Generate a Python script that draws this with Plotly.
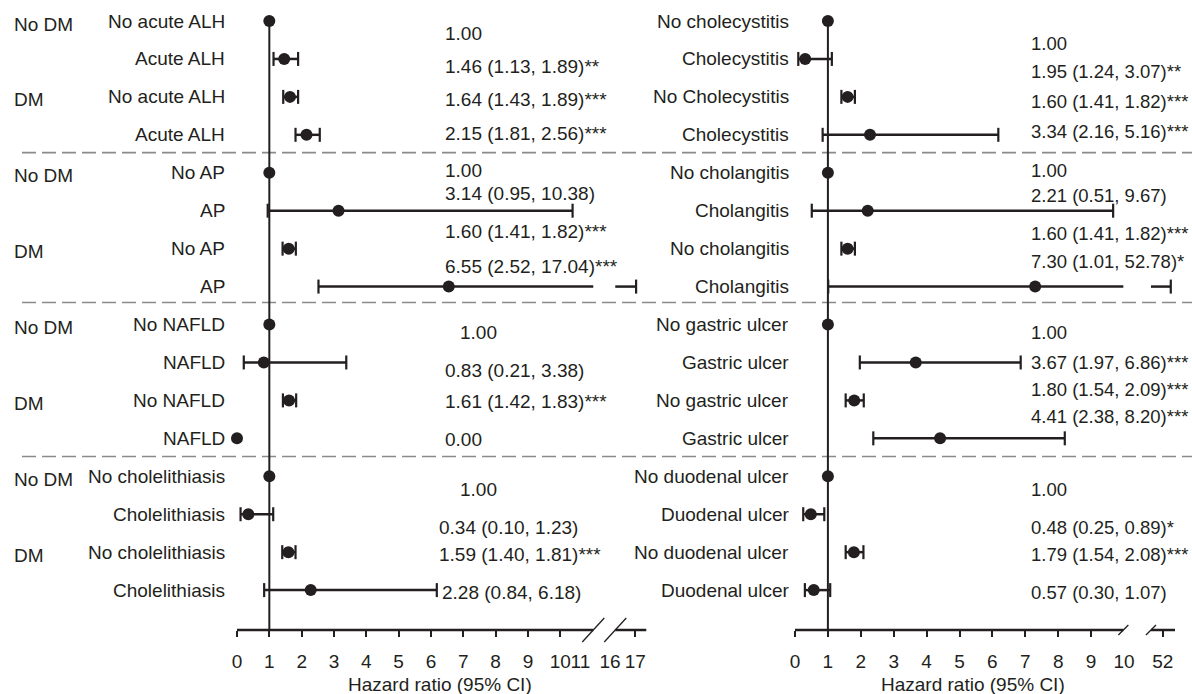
import plotly.graph_objects as go

# ---------------- data ----------------
group_labels = ["No DM", "", "DM", ""] * 4

left_categories = ["No acute ALH", "Acute ALH", "No acute ALH", "Acute ALH",
                   "No AP", "AP", "No AP", "AP",
                   "No NAFLD", "NAFLD", "No NAFLD", "NAFLD",
                   "No cholelithiasis", "Cholelithiasis", "No cholelithiasis", "Cholelithiasis"]
left_hr = [1.00, 1.46, 1.64, 2.15, 1.00, 3.14, 1.60, 6.55,
           1.00, 0.83, 1.61, 0.00, 1.00, 0.35, 1.59, 2.28]
left_lo = [None, 1.13, 1.43, 1.81, None, 0.95, 1.41, 2.52,
           None, 0.21, 1.42, None, None, 0.11, 1.40, 0.84]
left_hi = [None, 1.89, 1.89, 2.56, None, 10.38, 1.82, 17.04,
           None, 3.38, 1.83, None, None, 1.12, 1.81, 6.18]
left_text = ["1.00", "1.46 (1.13, 1.89)**", "1.64 (1.43, 1.89)***", "2.15 (1.81, 2.56)***",
             "1.00", "3.14 (0.95, 10.38)", "1.60 (1.41, 1.82)***", "6.55 (2.52, 17.04)***",
             "1.00", "0.83 (0.21, 3.38)", "1.61 (1.42, 1.83)***", "0.00",
             "1.00", "0.34 (0.10, 1.23)", "1.59 (1.40, 1.81)***", "2.28 (0.84, 6.18)"]

right_categories = ["No cholecystitis", "Cholecystitis", "No Cholecystitis", "Cholecystitis",
                    "No cholangitis", "Cholangitis", "No cholangitis", "Cholangitis",
                    "No gastric ulcer", "Gastric ulcer", "No gastric ulcer", "Gastric ulcer",
                    "No duodenal ulcer", "Duodenal ulcer", "No duodenal ulcer", "Duodenal ulcer"]
right_hr = [1.00, 0.31, 1.60, 2.28, 1.00, 2.21, 1.60, 7.30,
            1.00, 3.67, 1.80, 4.41, 1.00, 0.48, 1.79, 0.57]
right_lo = [None, 0.10, 1.41, 0.84, None, 0.51, 1.41, 1.01,
            None, 1.97, 1.54, 2.38, None, 0.25, 1.54, 0.30]
right_hi = [None, 1.12, 1.82, 6.18, None, 9.67, 1.82, 52.78,
            None, 6.86, 2.09, 8.20, None, 0.89, 2.08, 1.07]
right_text = ["1.00", "1.95 (1.24, 3.07)**", "1.60 (1.41, 1.82)***", "3.34 (2.16, 5.16)***",
              "1.00", "2.21 (0.51, 9.67)", "1.60 (1.41, 1.82)***", "7.30 (1.01, 52.78)*",
              "1.00", "3.67 (1.97, 6.86)***", "1.80 (1.54, 2.09)***", "4.41 (2.38, 8.20)***",
              "1.00", "0.48 (0.25, 0.89)*", "1.79 (1.54, 2.08)***", "0.57 (0.30, 1.07)"]

left_ticks = [0, 1, 2, 3, 4, 5, 6, 7, 8, 9, 10, 17]
left_extra_ticks = ["11", "16"]
right_ticks = [0, 1, 2, 3, 4, 5, 6, 7, 8, 9, 52]
right_extra_ticks = ["10"]
x_title = "Hazard ratio (95% CI)"

# ---------------- layout / style ----------------
W, H = 1192, 694
MB = 64
PLOT_H = H - MB
INK = "#231f20"
FONT = "Liberation Sans, Arial, Helvetica, sans-serif"
FS = 19
FS_RIGHT_VALUES = 18.5

ROW_TOP = -21 / 37.94
ROW_BOT = (PLOT_H - 21) / 37.94

# text row positions (layout)
left_text_rows = [0.32, 1.20, 2.08, 2.96, 3.93, 4.55, 5.56, 6.47,
                  8.22, 9.22, 10.02, 11.02, 12.36, 13.34, 14.05, 15.05]
left_text_px = [443, 443, 443, 443, 443, 443, 443, 443,
                458, 443, 443, 443, 458, 437, 437, 440]
right_text_rows = [0.59, 1.34, 2.13, 2.92, 3.95, 4.60, 5.60, 6.35,
                   8.20, 9.00, 9.71, 10.43, 12.36, 13.34, 14.05, 15.05]
right_text_px = 1029
sep_rows = [3.47, 7.42, 11.48]

# axis geometry
L0_PX, L_UNIT = 237.0, 32.33
R0_PX, R_UNIT = 795.0, 32.9
L_DOM = (0, 655)
R_DOM = (660, W)
LEFT_GAP = (11.02, 11.70)
RIGHT_GAP = (9.98, 10.82)
LEFT_AXIS_END = 12.66
RIGHT_AXIS_END = 11.55
LEFT_EXTRA_POS = [10.62, 11.54]
RIGHT_EXTRA_POS = [10.0]


def left_map(v):
    if v <= 11:
        return v
    return LEFT_GAP[1] + (v - 16) * 0.62


def right_map(v):
    if v <= 10.5:
        return v
    return 11.18 + (v - 52) * 0.31


fig = go.Figure()


def add_panel(hr, lo, hi, fmap, gap, xa):
    lx, ly, cx, cy, dx, dy = [], [], [], [], [], []
    for i, (h, a, b) in enumerate(zip(hr, lo, hi)):
        dx.append(fmap(h)); dy.append(i)
        if a is None:
            continue
        da, db = fmap(a), fmap(b)
        if da < gap[0] and db > gap[1]:
            lx += [da, gap[0], None, gap[1], db, None]
            ly += [i, i, None, i, i, None]
        else:
            lx += [da, db, None]
            ly += [i, i, None]
        cx += [da, db]; cy += [i, i]
    fig.add_trace(go.Scatter(x=lx, y=ly, mode="lines", xaxis=xa, yaxis="y",
                             line=dict(color=INK, width=2.5), hoverinfo="skip", showlegend=False))
    fig.add_trace(go.Scatter(x=cx, y=cy, mode="markers", xaxis=xa, yaxis="y",
                             marker=dict(symbol="line-ns", size=10, line=dict(color=INK, width=2.2)),
                             hoverinfo="skip", showlegend=False))
    fig.add_trace(go.Scatter(x=dx, y=dy, mode="markers", xaxis=xa, yaxis="y",
                             marker=dict(symbol="circle", size=12, color=INK),
                             showlegend=False))


add_panel(left_hr, left_lo, left_hi, left_map, LEFT_GAP, "x")
add_panel(right_hr, right_lo, right_hi, right_map, RIGHT_GAP, "x2")

# dummy traces for overlay axes
fig.add_trace(go.Scatter(x=[None], y=[None], xaxis="x3", yaxis="y", showlegend=False))
fig.add_trace(go.Scatter(x=[None], y=[None], xaxis="x4", yaxis="y", showlegend=False))


def rng(dom, zero_px, unit):
    return [(dom[0] - zero_px) / unit, (dom[1] - zero_px) / unit]


l_rng = rng(L_DOM, L0_PX, L_UNIT)
r_rng = rng(R_DOM, R0_PX, R_UNIT)

axis_common = dict(showgrid=False, zeroline=False, showline=False, ticks="outside",
                   ticklen=6, tickwidth=2, tickcolor=INK, anchor="y",
                   tickfont=dict(family=FONT, size=FS, color=INK), ticklabelstandoff=8,
                   fixedrange=True)

fig.update_layout(
    width=W, height=H, margin=dict(l=0, r=0, t=0, b=MB),
    paper_bgcolor="white", plot_bgcolor="white",
    yaxis=dict(range=[ROW_BOT, ROW_TOP], visible=False, domain=[0, 1], fixedrange=True),
    xaxis=dict(domain=[L_DOM[0] / W, L_DOM[1] / W], range=l_rng,
               tickvals=[left_map(v) for v in left_ticks], ticktext=[str(v) for v in left_ticks],
               **axis_common),
    xaxis2=dict(domain=[R_DOM[0] / W, R_DOM[1] / W], range=r_rng,
                tickvals=[right_map(v) for v in right_ticks], ticktext=[str(v) for v in right_ticks],
                **axis_common),
    xaxis3=dict(overlaying="x", range=l_rng, tickvals=LEFT_EXTRA_POS, ticktext=left_extra_ticks,
                **{**axis_common, "tickcolor": "rgba(0,0,0,0)"}),
    xaxis4=dict(overlaying="x2", range=r_rng, tickvals=RIGHT_EXTRA_POS, ticktext=right_extra_ticks,
                **{**axis_common, "tickcolor": "rgba(0,0,0,0)"}),
    showlegend=False,
)

shapes = []
# separators
for r in sep_rows:
    shapes.append(dict(type="line", xref="paper", yref="y", x0=22 / W, x1=1, y0=r, y1=r,
                       line=dict(color="#8a8a8a", width=1.6, dash="14px,6px")))
# reference lines at HR = 1
for xr in ["x", "x2"]:
    shapes.append(dict(type="line", xref=xr, yref="y", x0=1, x1=1, y0=0, y1=ROW_BOT,
                       line=dict(color=INK, width=2)))
# axis lines with breaks
for xr, gap, end, half in [("x", LEFT_GAP, LEFT_AXIS_END, (11, 12)),
                           ("x2", RIGHT_GAP, RIGHT_AXIS_END, (5, 5))]:
    for a, b in [(0, gap[0]), (gap[1], end)]:
        shapes.append(dict(type="line", xref=xr, yref="paper", x0=a, x1=b, y0=0, y1=0,
                           line=dict(color=INK, width=2.5)))
    for g in gap:
        shapes.append(dict(type="line", xref=xr, yref="paper", xsizemode="pixel",
                           ysizemode="pixel", xanchor=g, yanchor=0,
                           x0=-half[0], x1=half[0], y0=-half[1], y1=half[1],
                           line=dict(color=INK, width=1.3)))
fig.update_layout(shapes=shapes)

ann = []
fnt = dict(family=FONT, size=FS, color=INK)
fnt_r = dict(family=FONT, size=FS_RIGHT_VALUES, color=INK)
for i, g in enumerate(group_labels):
    if g:
        ann.append(dict(text=g, xref="paper", yref="y", x=12 / W, y=i + 0.08,
                        xanchor="left", yanchor="middle", showarrow=False, font=fnt))
for i, c in enumerate(left_categories):
    ann.append(dict(text=c, xref="paper", yref="y", x=227 / W, y=i,
                    xanchor="right", yanchor="middle", showarrow=False, font=fnt))
for i, c in enumerate(right_categories):
    ann.append(dict(text=c, xref="paper", yref="y", x=791 / W, y=i,
                    xanchor="right", yanchor="middle", showarrow=False, font=fnt))
for t, r, p in zip(left_text, left_text_rows, left_text_px):
    ann.append(dict(text=t, xref="paper", yref="y", x=p / W, y=r,
                    xanchor="left", yanchor="middle", showarrow=False, font=fnt))
for t, r in zip(right_text, right_text_rows):
    ann.append(dict(text=t, xref="paper", yref="y", x=right_text_px / W, y=r,
                    xanchor="left", yanchor="middle", showarrow=False, font=fnt_r))
for xr, cx in [("x", 6.28), ("x2", 5.4)]:
    ann.append(dict(text=x_title, xref=xr, yref="paper", x=cx, y=0, yshift=-54,
                    xanchor="center", yanchor="middle", showarrow=False, font=fnt))
fig.update_layout(annotations=ann)

fig.write_html("out.html", config={"displayModeBar": False},
               post_script="document.body.style.margin='0px';document.body.style.overflow='hidden';")
